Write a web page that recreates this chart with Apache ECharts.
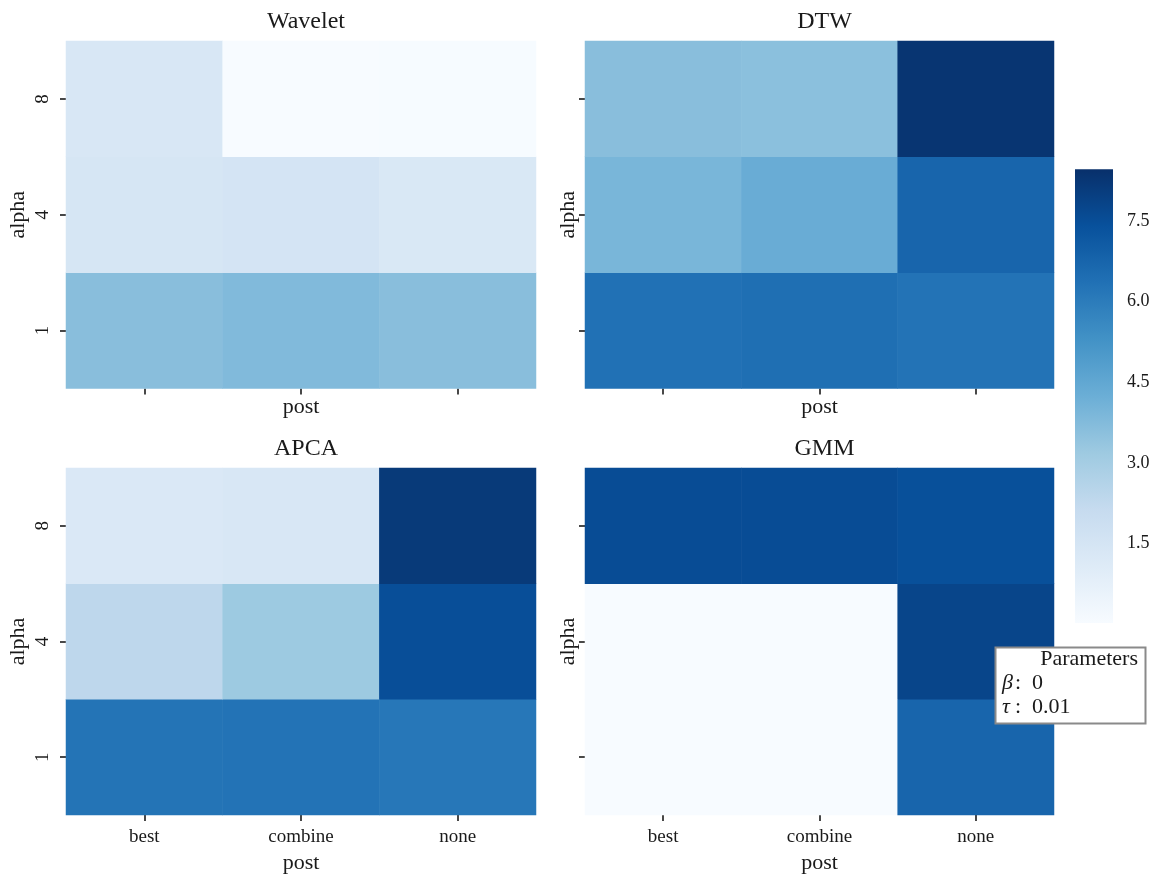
<!DOCTYPE html>
<html>
<head>
<meta charset="utf-8">
<script src="https://cdn.jsdelivr.net/npm/echarts@6/dist/echarts.min.js"></script>
<style>
html,body{margin:0;padding:0;background:#fff;}
#chart{width:1153px;height:875px;}
</style>
</head>
<body>
<div id="chart"></div>
<script>
// ---- data ----
const posts = ['best', 'combine', 'none'];
const alphas = ['1', '4', '8'];
const methods = ['Wavelet', 'DTW', 'APCA', 'GMM'];
// rows: alpha 1, 4, 8 ; columns: best, combine, none
const wavelet = [[3.62, 3.78, 3.62], [1.42, 1.52, 1.28], [1.36, 0.04, 0.05]];
const dtw     = [[6.35, 6.42, 6.30], [3.95, 4.30, 6.75], [3.62, 3.58, 8.30]];
const apca    = [[6.26, 6.28, 6.15], [2.35, 3.20, 7.50], [1.25, 1.35, 8.15]];
const gmm     = [[0.04, 0.04, 6.75], [0.04, 0.04, 7.80], [7.55, 7.55, 7.45]];
const colorbarTicks = [1.5, 3.0, 4.5, 6.0, 7.5];
const VMIN = 0.02, VMAX = 8.46;
const paramTitle = 'Parameters';
const paramBeta = '0';
const paramTau = '0.01';

const blues = ['#f7fbff','#deebf7','#c6dbef','#9ecae1','#6baed6','#4292c6','#2171b5','#08519c','#08306b'];
const FONT = 'Liberation Serif';
const TXT = '#1a1a1a';

const matrices = [wavelet, dtw, apca, gmm];
const grids = [
  {left: 66, top: 41, width: 470, height: 347.5},
  {left: 585, top: 41, width: 469, height: 347.5},
  {left: 66, top: 468, width: 470, height: 347.5},
  {left: 585, top: 468, width: 469, height: 347.5},
  {left: 1075, top: 169.3, width: 38, height: 453.7}
];

const xAxes = [], yAxes = [], series = [], titles = [];
for (let g = 0; g < 4; g++) {
  const bottomRow = g >= 2;
  const leftCol = g % 2 === 0;
  xAxes.push({
    type: 'category', gridIndex: g, data: posts,
    axisLine: {show: false},
    axisTick: {show: true, alignWithLabel: true, length: 6, lineStyle: {color: TXT, width: 1.6}},
    axisLabel: {show: bottomRow, margin: 13, fontFamily: FONT, fontSize: 19, color: TXT},
    splitLine: {show: false},
    name: 'post', nameLocation: 'middle', nameGap: bottomRow ? 37 : 8,
    nameTextStyle: {fontFamily: FONT, fontSize: 22, color: TXT}
  });
  yAxes.push({
    type: 'category', gridIndex: g, data: alphas,
    axisLine: {show: false},
    axisTick: {show: true, alignWithLabel: true, length: 6, lineStyle: {color: TXT, width: 1.6}},
    axisLabel: {show: leftCol, rotate: 90, margin: 13, fontFamily: FONT, fontSize: 19, color: TXT},
    splitLine: {show: false},
    name: 'alpha', nameLocation: 'middle', nameGap: leftCol ? 37 : 6, nameRotate: 90,
    nameTextStyle: {fontFamily: FONT, fontSize: 22, color: TXT}
  });
  const m = matrices[g];
  const data = [];
  for (let yi = 0; yi < alphas.length; yi++)
    for (let xi = 0; xi < posts.length; xi++)
      data.push([xi, yi, m[yi][xi]]);
  series.push({
    type: 'heatmap', xAxisIndex: g, yAxisIndex: g, data: data,
    itemStyle: {borderWidth: 0},
    emphasis: {disabled: true}
  });
  const gr = grids[g];
  titles.push({
    text: methods[g], left: gr.left + gr.width / 2, textAlign: 'center',
    top: gr.top - 36,
    textStyle: {fontFamily: FONT, fontSize: 24, fontWeight: 'normal', color: TXT}
  });
}

// colorbar axes
xAxes.push({type: 'value', gridIndex: 4, min: 0, max: 1, show: false});
yAxes.push({
  type: 'value', gridIndex: 4, min: VMIN, max: VMAX, position: 'right',
  axisLine: {show: false}, splitLine: {show: false},
  axisTick: {show: true, length: 6, customValues: colorbarTicks, lineStyle: {color: TXT, width: 1.6}},
  axisLabel: {show: true, margin: 14, customValues: colorbarTicks, formatter: v => v.toFixed(1),
              fontFamily: FONT, fontSize: 18, color: TXT}
});
series.push({
  type: 'custom', xAxisIndex: 4, yAxisIndex: 4, silent: true,
  data: [[0, VMIN, VMAX]],
  renderItem: function (params, api) {
    const p0 = api.coord([0, VMAX]);
    const p1 = api.coord([1, VMIN]);
    const stops = blues.slice().reverse().map((c, i) => ({offset: i / (blues.length - 1), color: c}));
    return {
      type: 'rect',
      shape: {x: p0[0], y: p0[1], width: p1[0] - p0[0], height: p1[1] - p0[1]},
      style: {fill: new echarts.graphic.LinearGradient(0, 0, 0, 1, stops)}
    };
  }
});

const legendFont = '22px "Liberation Serif"';
const legendItalic = 'italic 22px "Liberation Serif"';
const option = {
  backgroundColor: '#fff',
  animation: false,
  title: titles,
  grid: grids,
  xAxis: xAxes,
  yAxis: yAxes,
  visualMap: {
    type: 'continuous', show: false, min: VMIN, max: VMAX,
    seriesIndex: [0, 1, 2, 3], inRange: {color: blues}
  },
  series: series,
  graphic: [
    {type: 'rect', zlevel: 1, z: 100, shape: {x: 995.5, y: 647.5, width: 150, height: 76},
     style: {fill: '#fff', stroke: '#8a8a8a', lineWidth: 2}},
    {type: 'text', zlevel: 1, z: 101, style: {x: 1138, y: 659, text: paramTitle, align: 'right', verticalAlign: 'middle',
      font: legendFont, fill: TXT}},
    {type: 'text', zlevel: 1, z: 101, style: {x: 1002, y: 683, text: 'β', verticalAlign: 'middle',
      font: legendItalic, fill: TXT}},
    {type: 'text', zlevel: 1, z: 101, style: {x: 1015, y: 683, text: ':  ' + paramBeta, verticalAlign: 'middle',
      font: legendFont, fill: TXT}},
    {type: 'text', zlevel: 1, z: 101, style: {x: 1002, y: 707, text: 'τ', verticalAlign: 'middle',
      font: legendItalic, fill: TXT}},
    {type: 'text', zlevel: 1, z: 101, style: {x: 1015, y: 707, text: ':  ' + paramTau, verticalAlign: 'middle',
      font: legendFont, fill: TXT}}
  ]
};

const chart = echarts.init(document.getElementById('chart'), null, {renderer: 'canvas'});
chart.setOption(option);
</script>
</body>
</html>
